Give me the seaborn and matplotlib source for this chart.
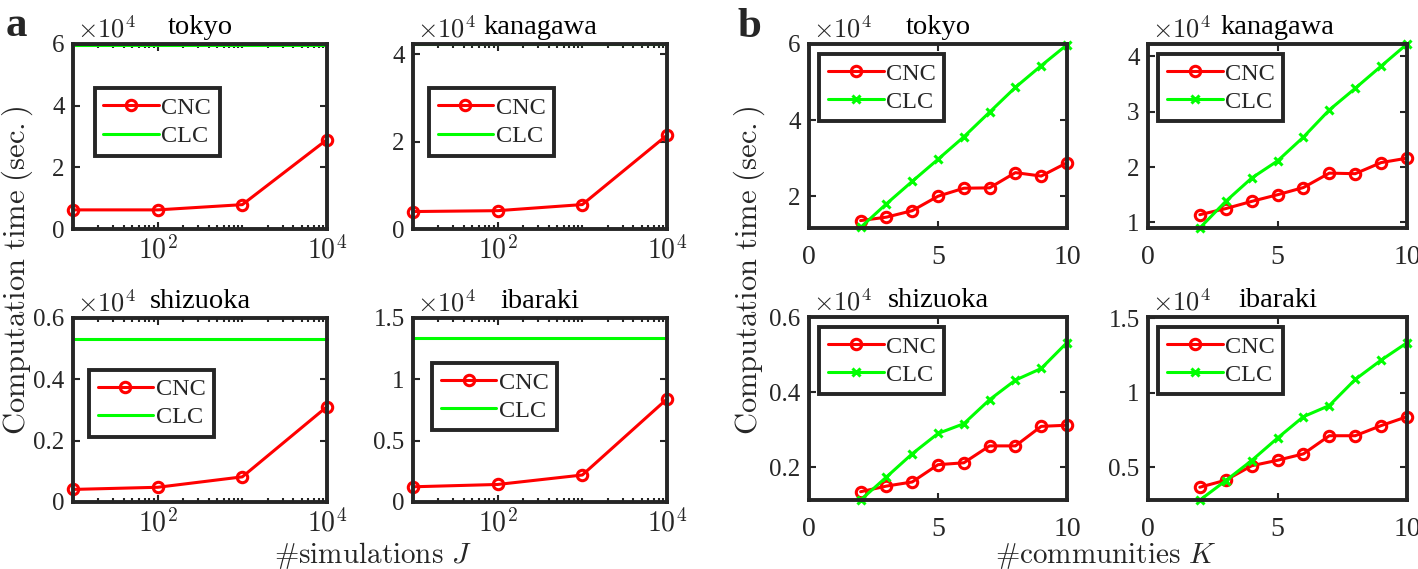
import matplotlib
matplotlib.use("Agg")
import matplotlib.pyplot as plt
import matplotlib.ticker as mticker
import seaborn as sns

# all times are in units of 1e4 seconds (axes show x10^4)
prefectures = ['tokyo', 'kanagawa', 'shizuoka', 'ibaraki']

# panel a: number of simulations J (K = 10)
n_sims = [1e1, 1e2, 1e3, 1e4]
cnc_sims_tokyo = [0.62, 0.62, 0.79, 2.90]
cnc_sims_kanagawa = [0.40, 0.42, 0.56, 2.15]
cnc_sims_shizuoka = [0.041, 0.048, 0.082, 0.311]
cnc_sims_ibaraki = [0.124, 0.143, 0.22, 0.84]
clc_const = [5.98, 4.24, 0.531, 1.333]

# panel b: number of communities K
n_comm = [2, 3, 4, 5, 6, 7, 8, 9, 10]
cnc_comm_tokyo = [1.36, 1.45, 1.62, 2.00, 2.21, 2.22, 2.62, 2.53, 2.88]
clc_comm_tokyo = [1.18, 1.80, 2.39, 2.97, 3.56, 4.21, 4.86, 5.43, 5.98]
cnc_comm_kanagawa = [1.14, 1.25, 1.38, 1.50, 1.63, 1.89, 1.88, 2.08, 2.16]
clc_comm_kanagawa = [0.90, 1.38, 1.80, 2.11, 2.54, 3.03, 3.42, 3.82, 4.22]
cnc_comm_shizuoka = [0.135, 0.150, 0.161, 0.207, 0.212, 0.257, 0.257, 0.309, 0.312]
clc_comm_shizuoka = [0.113, 0.174, 0.236, 0.290, 0.316, 0.380, 0.432, 0.463, 0.532]
cnc_comm_ibaraki = [0.366, 0.413, 0.51, 0.547, 0.59, 0.712, 0.712, 0.78, 0.84]
clc_comm_ibaraki = [0.279, 0.41, 0.545, 0.696, 0.84, 0.915, 1.09, 1.22, 1.337]

ylim_a = [(0, 6), (0, 4.24), (0, 0.6), (0, 1.5)]
yticks_a = [[0, 2, 4, 6], [0, 2, 4], [0, 0.2, 0.4, 0.6], [0, 0.5, 1, 1.5]]
ylim_b = [(1.165, 6.0), (0.9, 4.22), (0.113, 0.6), (0.28, 1.51)]
yticks_b = [[2, 4, 6], [1, 2, 3, 4], [0.2, 0.4, 0.6], [0.5, 1, 1.5]]

cnc_sims = [cnc_sims_tokyo, cnc_sims_kanagawa, cnc_sims_shizuoka, cnc_sims_ibaraki]
cnc_comm = [cnc_comm_tokyo, cnc_comm_kanagawa, cnc_comm_shizuoka, cnc_comm_ibaraki]
clc_comm = [clc_comm_tokyo, clc_comm_kanagawa, clc_comm_shizuoka, clc_comm_ibaraki]

sns.set_style("ticks")
plt.rcParams['font.family'] = ['Liberation Serif', 'DejaVu Serif']
plt.rcParams['mathtext.fontset'] = 'cm'

RED = '#ff0000'
GREEN = '#00ff00'
DARK = '#262626'

W, H = 1418, 569
fig = plt.figure(figsize=(W / 100, H / 100), dpi=100)


def px_axes(left, top, right, bottom):
    return fig.add_axes([left / W, 1 - bottom / H, (right - left) / W, (bottom - top) / H])


boxes_a = [(73, 44, 327, 229), (413, 44, 667, 229), (73, 318, 327, 502), (413, 318, 667, 502)]
boxes_b = [(809, 44, 1067, 228), (1148, 44, 1407, 228), (809, 317, 1067, 500), (1148, 317, 1407, 500)]

cnc_style = dict(color=RED, lw=2.2, marker='o', markersize=7.5, markerfacecolor='none',
                 markeredgecolor=RED, markeredgewidth=2.2, clip_on=False)
clc_style = dict(color=GREEN, lw=2.2, clip_on=False)


def style_axes(ax, name):
    for sp in ax.spines.values():
        sp.set_visible(True)
        sp.set_linewidth(2.8)
        sp.set_color(DARK)
    ax.tick_params(which='both', direction='in', top=True, right=True,
                   width=1.5, colors=DARK, labelsize=18, pad=6)
    ax.tick_params(which='major', length=5)
    ax.tick_params(which='minor', length=3)
    ax.yaxis.set_major_formatter(mticker.FuncFormatter(lambda v, p: '%g' % v))
    ax.set_title(name, fontsize=20.5, pad=7, color='black')
    ax.text(0.015, 1.01, r'$\times10^4$', transform=ax.transAxes, ha='left',
            va='bottom', fontsize=19, color=DARK)
    ax.set_xlabel('')
    ax.set_ylabel('')


def add_legend(ax, anchor):
    leg = ax.legend(loc='upper left', bbox_to_anchor=anchor, fontsize=17.5,
                    frameon=True, fancybox=False, handlelength=2.3,
                    borderpad=0.35, labelspacing=0.25, handletextpad=0.1,
                    borderaxespad=0)
    leg.get_frame().set_edgecolor(DARK)
    leg.get_frame().set_linewidth(2.8)
    leg.get_frame().set_facecolor('white')
    leg.get_frame().set_alpha(1)


legend_anchor_a = [(0.085, 0.76), (0.063, 0.76), (0.063, 0.72), (0.075, 0.755)]

# panel a
for i, name in enumerate(prefectures):
    ax = px_axes(*boxes_a[i])
    ax.set_xscale('log')
    sns.lineplot(x=n_sims, y=cnc_sims[i], ax=ax, label='CNC', **cnc_style)
    sns.lineplot(x=n_sims, y=[clc_const[i]] * len(n_sims), ax=ax, label='CLC', **clc_style)
    ax.set_xlim(10, 1e4)
    ax.set_ylim(*ylim_a[i])
    ax.set_yticks(yticks_a[i])
    ax.xaxis.set_major_locator(mticker.FixedLocator([1e2, 1e4]))
    ax.xaxis.set_major_formatter(mticker.FixedFormatter([r'$10^2$', r'$10^4$']))
    ax.xaxis.set_minor_locator(mticker.LogLocator(base=10, subs=range(1, 10), numticks=20))
    ax.xaxis.set_minor_formatter(mticker.NullFormatter())
    style_axes(ax, name)
    ax.tick_params(axis='x', labelsize=20, pad=5)
    add_legend(ax, legend_anchor_a[i])

# panel b
for i, name in enumerate(prefectures):
    ax = px_axes(*boxes_b[i])
    sns.lineplot(x=n_comm, y=cnc_comm[i], ax=ax, label='CNC', **cnc_style)
    sns.lineplot(x=n_comm, y=clc_comm[i], ax=ax, label='CLC', marker='x', markersize=6,
                 markeredgecolor=GREEN, markeredgewidth=2.2, **clc_style)
    ax.set_xlim(0, 10)
    ax.set_xticks([0, 5, 10])
    ax.xaxis.set_major_formatter(mticker.FuncFormatter(lambda v, p: '%g' % v))
    ax.set_ylim(*ylim_b[i])
    ax.set_yticks(yticks_b[i])
    style_axes(ax, name)
    ax.tick_params(axis='x', labelsize=20, pad=12)
    add_legend(ax, (0.04, 0.945))

# shared labels and panel letters
ylab = r'$\mathrm{Computation\ time\ (sec.)}$'
fig.text(17 / W, 1 - 270 / H, ylab, rotation=90, ha='center', va='center', fontsize=22)
fig.text(749 / W, 1 - 270 / H, ylab, rotation=90, ha='center', va='center', fontsize=22)
fig.text(373 / W, 1 - 563 / H, r'$\#\mathrm{simulations}\ J$', ha='center', va='baseline', fontsize=21)
fig.text(1106 / W, 1 - 563 / H, r'$\#\mathrm{communities}\ K$', ha='center', va='baseline', fontsize=21)
fig.text(6 / W, 1 - 36 / H, 'a', fontsize=31, fontweight='bold', va='baseline')
fig.text(738 / W, 1 - 37 / H, 'b', fontsize=31, fontweight='bold', va='baseline')

fig.savefig('out.png', dpi=100)
